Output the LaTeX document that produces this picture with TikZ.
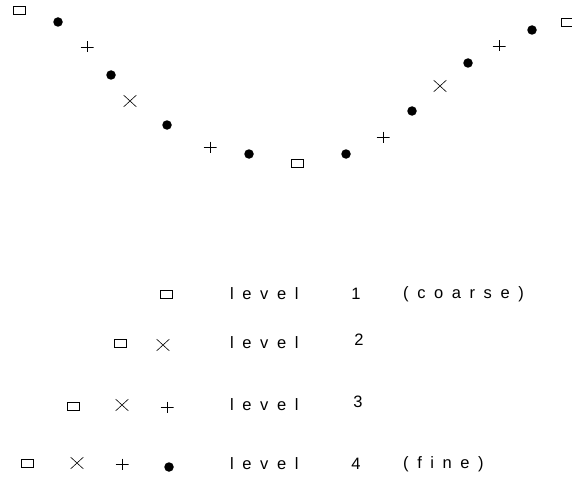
\documentclass[tikz,border=0pt]{standalone}
\usepackage{fontspec}
\setmainfont{Liberation Sans}
\newfontfamily\spacedfont[LetterSpace=52]{Liberation Sans}
\usetikzlibrary{shapes.misc}

\begin{document}
\begin{tikzpicture}[x=1pt, y=-1pt,
          sqmark/.style={rectangle, draw, minimum width=12pt, minimum height=8pt,
                         inner sep=0pt, line width=0.7pt},
          dotmark/.style={circle, fill, minimum size=9.5pt, inner sep=0pt},
          crossmark/.style={cross out, draw, minimum width=12pt, minimum height=11pt,
                            inner sep=0pt, line width=0.6pt},
          plusmark/.style={rectangle, minimum width=13pt, minimum height=11pt, inner sep=0pt,
                           path picture={\draw[line width=0.7pt]
                             (path picture bounding box.north) -- (path picture bounding box.south)
                             (path picture bounding box.west) -- (path picture bounding box.east);}},
          lbl/.style={font=\spacedfont\fontsize{16.5}{18}\selectfont, inner sep=0pt}]
          \useasboundingbox (0,0) rectangle (572,476);
          % grid points of the four levels
          \foreach \i/\px/\py/\mk in {1/19/10/sqmark, 2/58/22/dotmark, 3/87/47/plusmark,
              4/111/75/dotmark, 5/130/101/crossmark, 6/167/125/dotmark, 7/210/147/plusmark,
              8/249/154/dotmark, 9/297/163/sqmark, 10/346/154/dotmark, 11/383/137/plusmark,
              12/412/111/dotmark, 13/440/86/crossmark, 14/468/63/dotmark, 15/499/46/plusmark,
              16/532/30/dotmark, 17/567/22/sqmark}
            \node[\mk] (pt\i) at (\px,\py) {};
          % legend
          \node[sqmark]    (ka) at (166,294) {};
          \node[lbl, anchor=west] (lva) at (230,294) {level};
          \node[lbl] (nra) at (356,294) {1};
          \node[lbl, anchor=west] (cmta) at (403,294) {(coarse)};
          \node[sqmark]    (kb1) at (120,343) {};
          \node[crossmark] (kb2) at (163,345) {};
          \node[lbl, anchor=west] (lvb) at (230,343) {level};
          \node[lbl] (nrb) at (359,340) {2};
          \node[sqmark]    (kc1) at (73,406) {};
          \node[crossmark] (kc2) at (122,405) {};
          \node[plusmark]  (kc3) at (167,407) {};
          \node[lbl, anchor=west] (lvc) at (230,405) {level};
          \node[lbl] (nrc) at (358,402) {3};
          \node[sqmark]    (kd1) at (27,463) {};
          \node[crossmark] (kd2) at (77,463) {};
          \node[plusmark]  (kd3) at (122,464) {};
          \node[dotmark]   (kd4) at (169,467) {};
          \node[lbl, anchor=west] (lvd) at (230,464) {level};
          \node[lbl] (nrd) at (356,464) {4};
          \node[lbl, anchor=west] (cmtd) at (403,464) {(fine)};
        \end{tikzpicture}
\end{document}
